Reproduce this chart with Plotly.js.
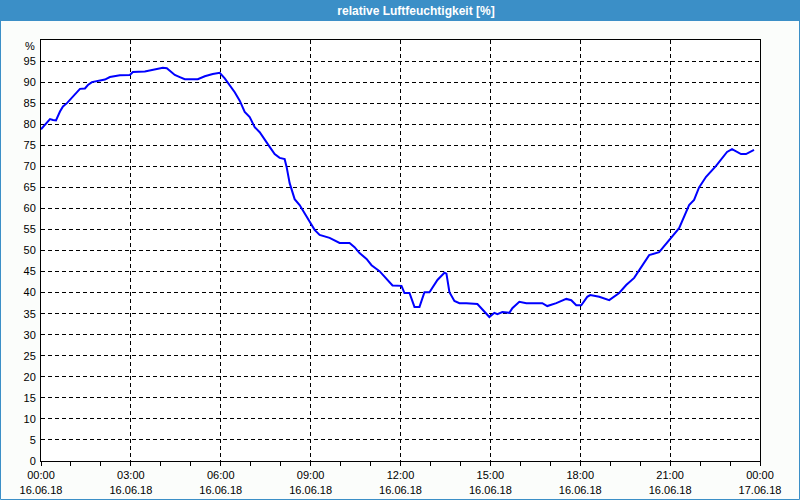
<!DOCTYPE html>
<html>
<head>
<meta charset="utf-8">
<script src="https://cdn.plot.ly/plotly-3.0.1.min.js"></script>
<style>html,body{margin:0;padding:0;background:#fbfdfb;}#chart{width:800px;height:500px;}</style>
</head>
<body>
<div id="chart"></div>
<script>
// time of day (16.06.18) and relative humidity [%]
const times = ["00:00","00:12","00:18","00:24","00:30","00:38","00:44","00:52","01:02","01:08","01:18","01:28","01:34","01:42","01:52","02:08","02:18","02:38","02:58","03:04","03:28","03:48","04:04","04:12","04:28","04:38","04:48","05:14","05:28","05:44","05:58","06:08","06:18","06:28","06:38","06:48","06:58","07:08","07:18","07:28","07:38","07:48","07:58","08:08","08:12","08:18","08:28","08:38","08:48","08:58","09:08","09:18","09:38","09:58","10:18","10:28","10:38","10:52","11:02","11:18","11:28","11:44","12:02","12:08","12:18","12:28","12:38","12:48","12:58","13:14","13:28","13:32","13:38","13:48","13:58","14:12","14:34","14:44","14:58","15:08","15:14","15:24","15:38","15:44","15:58","16:12","16:44","16:54","17:12","17:32","17:42","17:52","18:02","18:14","18:20","18:38","18:58","19:18","19:32","19:48","20:02","20:18","20:38","20:58","21:18","21:38","21:48","21:58","22:12","22:32","22:44","22:54","23:04","23:22","23:32","23:48"];
const humidity = [78.8,80.3,81.2,81.0,80.9,83.0,84.2,85.0,86.3,87.0,88.4,88.5,89.3,90.0,90.3,90.6,91.2,91.6,91.7,92.4,92.5,93.1,93.4,93.3,91.7,91.2,90.7,90.7,91.4,91.9,92.2,90.9,89.3,87.6,85.6,82.9,81.7,79.3,78.1,76.2,74.6,72.9,72.0,71.7,69.8,66.0,62.2,60.8,58.9,57.0,54.9,53.7,53.0,51.8,51.8,50.8,49.4,48.0,46.5,45.1,43.7,41.7,41.6,39.9,39.9,36.6,36.6,40.1,40.1,43.0,44.7,44.5,40.1,38.0,37.5,37.5,37.3,36.1,34.2,35.2,34.9,35.4,35.2,36.3,37.8,37.5,37.5,36.8,37.5,38.5,38.2,37.0,37.0,39.0,39.4,39.0,38.2,39.9,41.8,43.5,46.1,48.9,49.6,52.5,55.3,60.8,62.0,65.0,67.5,70.1,72.0,73.4,74.1,72.9,72.9,73.9];
const yTicks = [0,5,10,15,20,25,30,35,40,45,50,55,60,65,70,75,80,85,90,95];
const chartTitle = "relative Luftfeuchtigkeit [%]";
const unitLabel = "%";
const day = "2018-06-16";

const x = times.map(t => day + " " + t);

const L = 41, R = 40, T = 40, B = 39, W = 800, H = 500;
const pw = W - L - R, ph = H - T - B;
const px = v => (v - L) / pw;
const py = v => (H - B - v) / ph;
const blue = "#3b8fc7";
const font = "Liberation Sans, Arial, sans-serif";

const trace = {
  x: x, y: humidity, type: "scatter", mode: "lines",
  line: {color: "#0000ff", width: 2}, hoverinfo: "skip"
};

const layout = {
  width: W, height: H,
  margin: {l: L, r: R, t: T, b: B, pad: 0},
  paper_bgcolor: "#fbfdfb", plot_bgcolor: "#ffffff",
  showlegend: false,
  font: {family: font, size: 11, color: "#000"},
  title: {text: chartTitle, font: {family: font, size: 12, color: "#ffffff", weight: "bold"},
          xref: "container", yref: "container", x: 416/800, y: 1 - 11/500, xanchor: "center", yanchor: "middle"},
  xaxis: {
    type: "date", range: [day + " 00:00", "2018-06-17 00:00"],
    dtick: 10800000, tick0: day + " 00:00",
    tickformat: "%H:%M<br>%d.%m.%y",
    ticks: "outside", ticklen: 4, tickcolor: "#000",
    showline: true, linecolor: "#000", linewidth: 1, mirror: true,
    showgrid: true, gridcolor: "#000", gridwidth: 1, griddash: "4px,3px",
    minor: {dtick: 3600000, ticks: "outside", ticklen: 4, tickcolor: "#000", showgrid: false},
    zeroline: false, fixedrange: true,
    tickfont: {family: font, size: 11, color: "#000"}
  },
  yaxis: {
    range: [0, 100], tickmode: "array", tickvals: yTicks, ticktext: yTicks.map(String),
    ticks: "", showline: true, linecolor: "#000", linewidth: 1, mirror: true,
    showgrid: true, gridcolor: "#000", gridwidth: 1, griddash: "4px,3px",
    zeroline: false, fixedrange: true, ticklabelstandoff: 2,
    tickfont: {family: font, size: 11, color: "#000"}
  },
  shapes: [
    {type: "rect", xref: "paper", yref: "paper", layer: "below",
     x0: px(0), x1: px(800), y0: py(21), y1: py(0), fillcolor: blue, line: {width: 0}},
    {type: "rect", xref: "paper", yref: "paper", layer: "above",
     x0: px(0.5), x1: px(799.5), y0: py(499.5), y1: py(0.5), fillcolor: "rgba(0,0,0,0)", line: {color: blue, width: 1}}
  ],
  annotations: [
    {text: unitLabel, xref: "paper", yref: "paper", x: px(37), y: py(46), xanchor: "right", yanchor: "middle",
     showarrow: false, font: {family: font, size: 11, color: "#000"}}
  ]
};

Plotly.newPlot("chart", [trace], layout, {displayModeBar: false, staticPlot: true});
</script>
</body>
</html>
